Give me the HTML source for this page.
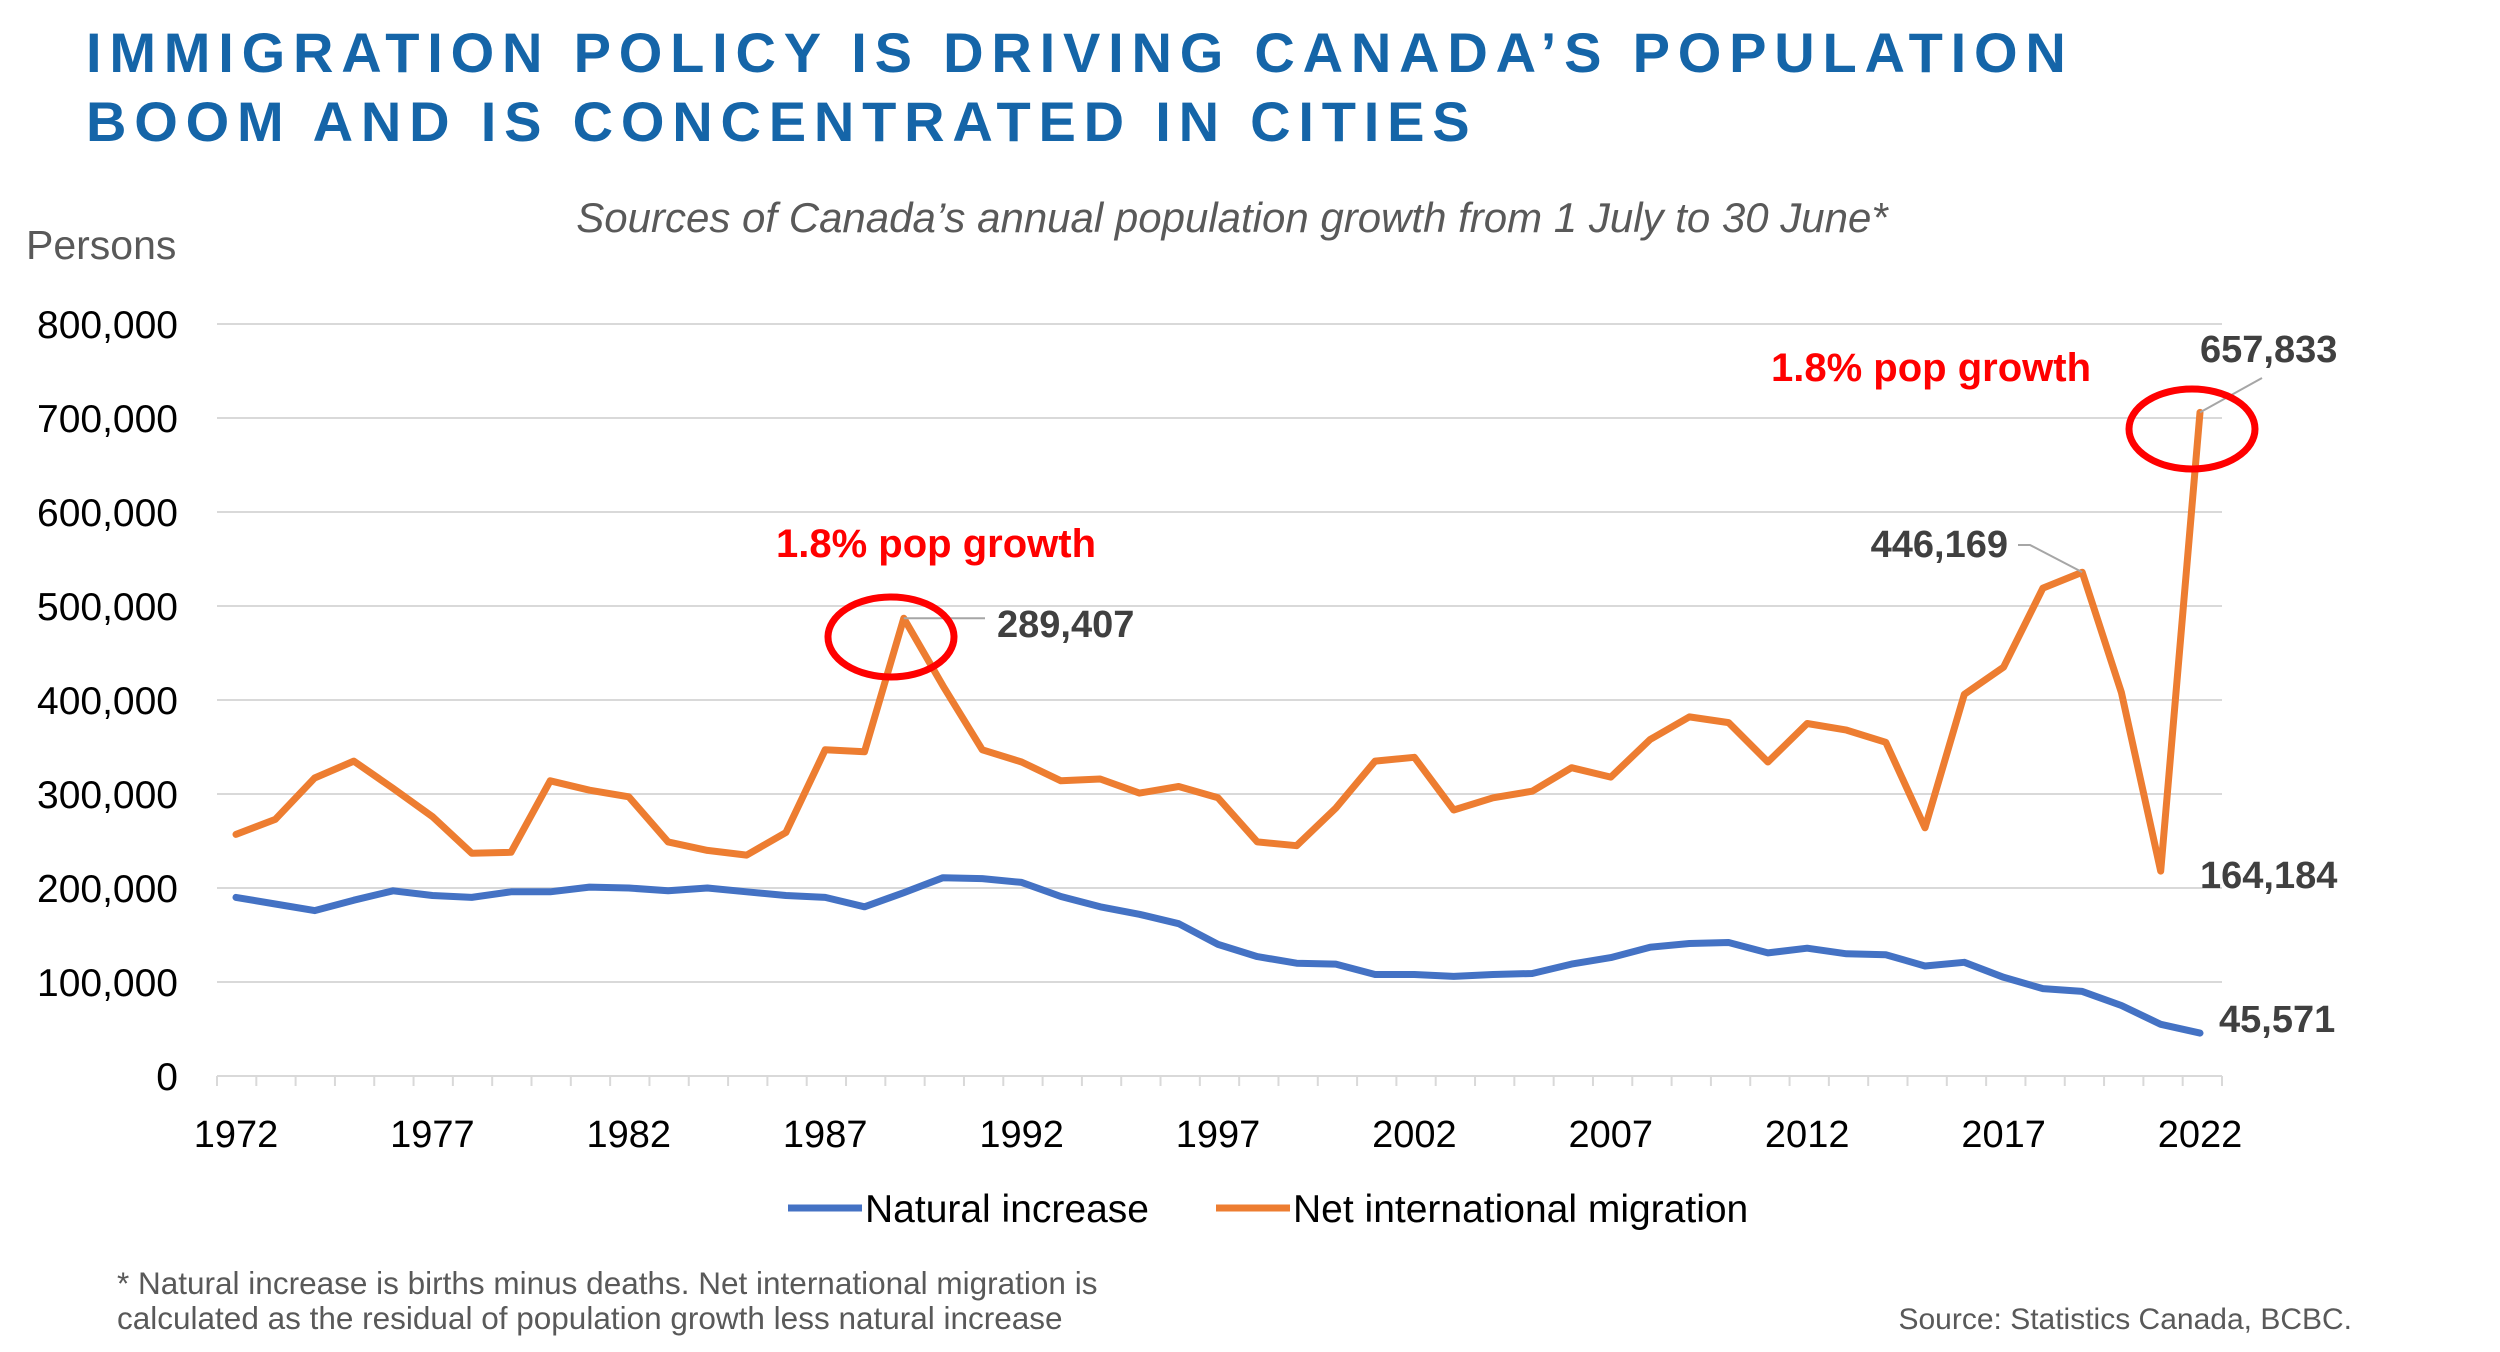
<!DOCTYPE html>
<html><head><meta charset="utf-8"><style>
html,body{margin:0;padding:0;background:#fff;width:2500px;height:1352px;overflow:hidden}
svg{display:block;font-family:"Liberation Sans",sans-serif}
</style></head><body>
<svg id="chart" width="2500" height="1352" viewBox="0 0 2500 1352">
<text x="86" y="72" font-size="56" font-weight="bold" fill="#1565a8" letter-spacing="7.8">IMMIGRATION POLICY IS DRIVING CANADA’S POPULATION</text>
<text x="86" y="141" font-size="56" font-weight="bold" fill="#1565a8" letter-spacing="7.8">BOOM AND IS CONCENTRATED IN CITIES</text>
<text x="1232" y="232" font-size="42" font-style="italic" fill="#595959" text-anchor="middle">Sources of Canada’s annual population growth from 1 July to 30 June*</text>
<text x="26" y="259" font-size="41" fill="#595959">Persons</text>
<g id="grid"></g><g id="yticks"></g><g id="xticks"></g><g id="series"></g>
<g id="annot">
<text x="776" y="557" font-size="40" font-weight="bold" fill="#ff0000">1.8% pop growth</text>
<text x="1771" y="381" font-size="40" font-weight="bold" fill="#ff0000">1.8% pop growth</text>
<text x="997" y="637" font-size="38" font-weight="bold" fill="#404040">289,407</text>
<text x="2008" y="557" font-size="38" font-weight="bold" fill="#404040" text-anchor="end">446,169</text>
<text x="2200" y="362" font-size="38" font-weight="bold" fill="#404040">657,833</text>
<text x="2200" y="888" font-size="38" font-weight="bold" fill="#404040">164,184</text>
<text x="2219" y="1032" font-size="38" font-weight="bold" fill="#404040">45,571</text>
</g>
<g>
<line x1="788" y1="1208" x2="862" y2="1208" stroke="#4472c4" stroke-width="7"/>
<text x="865" y="1222" font-size="39" fill="#000">Natural increase</text>
<line x1="1216" y1="1208" x2="1290" y2="1208" stroke="#ed7d31" stroke-width="7"/>
<text x="1293" y="1222" font-size="39" fill="#000">Net international migration</text>
</g>
<text x="117" y="1294" font-size="31.5" fill="#595959">* Natural increase is births minus deaths. Net international migration is</text>
<text x="117" y="1329" font-size="31.5" fill="#595959">calculated as the residual of population growth less natural increase</text>
<text x="2352" y="1329" font-size="30" fill="#595959" text-anchor="end">Source: Statistics Canada, BCBC.</text>
</svg>
<script>
const years = [];
for (let y = 1972; y <= 2022; y++) years.push(y);
const naturalIncrease = [190,183,176,187,197,192,190,196,196,201,200,197,200,196,192,190,180,195,211,210,206,191,180,172,162,140,127,120,119,108,108,106,108,109,119,126,137,141,142,131,136,130,129,117,121,105,93,90,75,55,45.6];
const netMigration = [257,273,317,335,306,276,237,238,314,304,297,249,240,235,259,347,345,487,415,347,334,314,316,301,308,296,249,245,285,335,339,283,296,303,328,318,358,382,376,334,375,368,355,264,406,435,519,536,408,218,706];
const yTicks = [0,100,200,300,400,500,600,700,800];
const xLabels = [1972,1977,1982,1987,1992,1997,2002,2007,2012,2017,2022];

const NS = "http://www.w3.org/2000/svg";
const X0 = 236, X1 = 2200, Y0 = 1076, Y1 = 324;
const xs = y => X0 + (y - 1972) / 50 * (X1 - X0);
const ys = v => Y0 - v / 800 * (Y0 - Y1);
function mk(tag, attrs, parent) {
  const e = document.createElementNS(NS, tag);
  for (const k in attrs) e.setAttribute(k, attrs[k]);
  document.getElementById(parent).appendChild(e);
  return e;
}
yTicks.forEach(v => {
  if (v > 0) {
    const g = mk("line", {x1: 217, x2: 2222, y1: ys(v), y2: ys(v), stroke: "#d9d9d9", "stroke-width": 2}, "grid");
    
    
  }
  const t = mk("text", {x: 178, y: ys(v) + 14, "font-size": 39, "text-anchor": "end", fill: "#000"}, "yticks");
  t.textContent = v === 0 ? "0" : v + ",000";
  
  
});
const ax = mk("line", {x1: 217, x2: 2222, y1: Y0, y2: Y0, stroke: "#d9d9d9", "stroke-width": 2}, "grid");


for (let i = 0; i <= 51; i++) {
  const x = 217 + i * (2222 - 217) / 51;
  const tk = mk("line", {x1: x, x2: x, y1: Y0, y2: Y0 + 10, stroke: "#d9d9d9", "stroke-width": 2}, "grid");
  
  
}
xLabels.forEach(y => {
  const t = mk("text", {x: xs(y), y: 1147, "font-size": 38, "text-anchor": "middle", fill: "#000"}, "xticks");
  t.textContent = y;
  
  
});
function line(vals, color, name) {
  const d = vals.map((v, i) => (i ? "L" : "M") + xs(years[i]).toFixed(1) + "," + ys(v).toFixed(1)).join(" ");
  const p = mk("path", {d: d, fill: "none", stroke: color, "stroke-width": 7, "stroke-linejoin": "round", "stroke-linecap": "round"}, "series");
  
  
}
line(naturalIncrease, "#4472c4", "natural-increase-line");
line(netMigration, "#ed7d31", "net-migration-line");

const i89 = 1989 - 1972, i19 = 2019 - 1972, i22 = 2022 - 1972;
const l1 = mk("polyline", {points: `${xs(1989)},${ys(netMigration[i89])} 985,${ys(netMigration[i89])}`, fill: "none", stroke: "#a6a6a6", "stroke-width": 2}, "annot");


const l2 = mk("polyline", {points: `2018,545 2030,545 ${xs(2019)},${ys(netMigration[i19])}`, fill: "none", stroke: "#a6a6a6", "stroke-width": 2}, "annot");


const l3 = mk("polyline", {points: `${xs(2022)},${ys(netMigration[i22])} 2262,378`, fill: "none", stroke: "#a6a6a6", "stroke-width": 2}, "annot");


const c1 = mk("ellipse", {cx: 891, cy: 637, rx: 63, ry: 40, fill: "none", stroke: "#ff0000", "stroke-width": 7}, "annot");


const c2 = mk("ellipse", {cx: 2192, cy: 429, rx: 63, ry: 40, fill: "none", stroke: "#ff0000", "stroke-width": 7}, "annot");


</script>
</body></html>
